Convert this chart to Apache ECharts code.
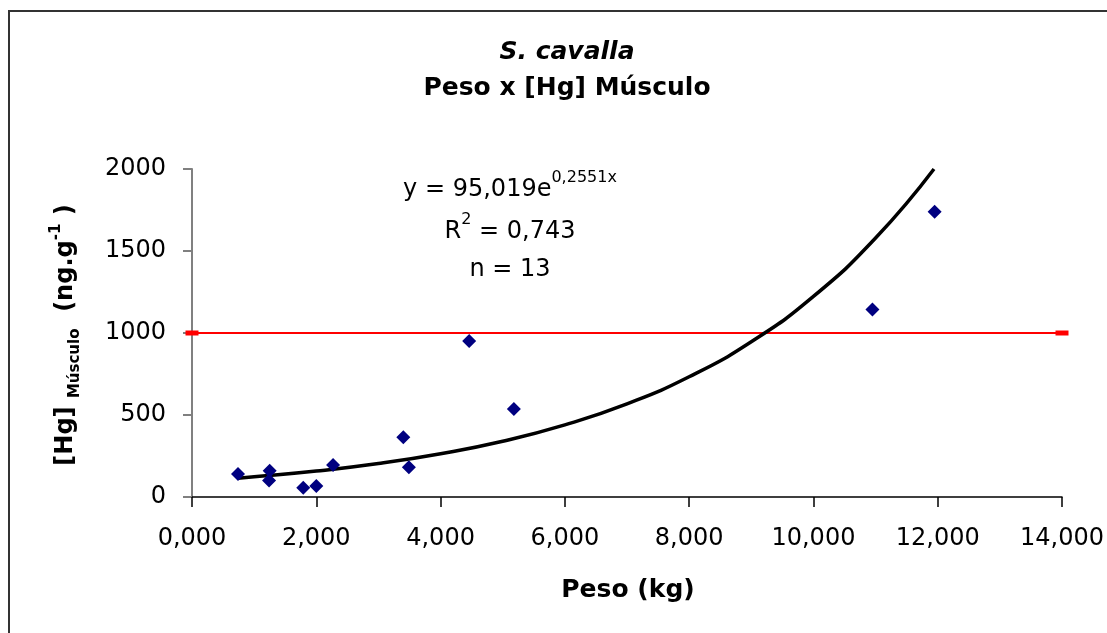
<!DOCTYPE html>
<html>
<head>
<meta charset="utf-8">
<script src="https://cdn.jsdelivr.net/npm/echarts@6/dist/echarts.min.js"></script>
<style>
html,body{margin:0;padding:0;background:#fff;}
#c{width:1107px;height:633px;}
</style>
</head>
<body>
<div id="c"></div>
<script>
// Observed data: weight (kg) and [Hg] muscle (ng/g)
const pesoKg = [0.74, 1.25, 1.24, 1.79, 2.00, 2.27, 3.40, 3.49, 4.46, 5.18, 10.95, 11.95];
const hgMusculo = [140, 160, 100, 57, 67, 195, 364, 181, 951, 537, 1144, 1740];

// Trend line (exponential fit)
const trendX = [0.74, 1, 2, 3, 4, 5, 6, 7, 8, 9, 10, 11, 11.94];
const trendY = [115, 123, 158, 204, 264, 340, 440, 568, 733, 947, 1223, 1579, 2000];

// Reference limit line
const limitX = [0, 14];
const limitY = [1000, 1000];

const xTicks = [0, 2, 4, 6, 8, 10, 12, 14];
const yTicks = [0, 500, 1000, 1500, 2000];

const titleLines = ['S. cavalla', 'Peso x [Hg] Músculo'];
const eqText = { a: 'y = 95,019e', sup: '0,2551x', r2: '0,743', n: '13' };

const FONT = 'DejaVu Sans';

const chart = echarts.init(document.getElementById('c'), null, { renderer: 'canvas' });

const scatterData = pesoKg.map((x, i) => [x, hgMusculo[i]]);
const trendData = trendX.map((x, i) => [x, trendY[i]]);
const limitData = limitX.map((x, i) => [x, limitY[i]]);

chart.setOption({
  backgroundColor: '#ffffff',
  animation: false,
  grid: { left: 192, right: 45, top: 169, bottom: 136 },
  xAxis: {
    type: 'value',
    min: xTicks[0], max: xTicks[xTicks.length - 1], interval: 2,
    axisLine: { show: true, onZero: false, lineStyle: { color: '#000', width: 1.5 } },
    axisTick: { show: true, inside: false, length: 10, lineStyle: { color: '#000', width: 1.5 } },
    splitLine: { show: false },
    axisLabel: {
      margin: 30, color: '#000', fontFamily: FONT, fontSize: 24,
      formatter: v => v.toFixed(3).replace('.', ',')
    }
  },
  yAxis: {
    type: 'value',
    min: yTicks[0], max: yTicks[yTicks.length - 1], interval: 500,
    axisLine: { show: true, lineStyle: { color: '#808080', width: 2 } },
    axisTick: { show: true, inside: false, length: 9, lineStyle: { color: '#808080', width: 2 } },
    splitLine: { show: false },
    axisLabel: { margin: 26, color: '#000', fontFamily: FONT, fontSize: 24, formatter: v => String(v) }
  },
  series: [
    {
      type: 'line', data: limitData, symbol: 'rect', symbolSize: [13, 5],
      lineStyle: { color: '#ff0000', width: 2 }, itemStyle: { color: '#ff0000' },
      clip: false, z: 2
    },
    {
      type: 'line', data: trendData, smooth: true, symbol: 'none',
      lineStyle: { color: '#000', width: 3.5 }, z: 3
    },
    {
      type: 'scatter', data: scatterData, symbol: 'diamond', symbolSize: 14,
      itemStyle: { color: '#000080', opacity: 1 }, z: 4
    }
  ],
  graphic: [
    {
      type: 'rect', shape: { x: 9, y: 11, width: 1110, height: 640 },
      style: { fill: 'none', stroke: '#333', lineWidth: 2 }, silent: true, z: -1
    },
    {
      type: 'text', x: 567, y: 52,
      style: { text: titleLines[0], font: 'italic bold 25px ' + FONT, fill: '#000', align: 'center', verticalAlign: 'middle' }
    },
    {
      type: 'text', x: 567, y: 88,
      style: { text: titleLines[1], font: 'bold 25px ' + FONT, fill: '#000', align: 'center', verticalAlign: 'middle' }
    },
    {
      type: 'text', x: 510, y: 186,
      style: {
        text: '{a|' + eqText.a + '}{s|' + eqText.sup + '}',
        align: 'center', verticalAlign: 'middle',
        rich: {
          a: { fontFamily: FONT, fontSize: 24, color: '#000', verticalAlign: 'bottom', lineHeight: 32 },
          s: { fontFamily: FONT, fontSize: 16, color: '#000', verticalAlign: 'top', lineHeight: 32 }
        }
      }
    },
    {
      type: 'text', x: 510, y: 228,
      style: {
        text: '{a|R}{s|2}{a| = ' + eqText.r2 + '}',
        align: 'center', verticalAlign: 'middle',
        rich: {
          a: { fontFamily: FONT, fontSize: 24, color: '#000', verticalAlign: 'bottom', lineHeight: 32 },
          s: { fontFamily: FONT, fontSize: 16, color: '#000', verticalAlign: 'top', lineHeight: 32 }
        }
      }
    },
    {
      type: 'text', x: 510, y: 270,
      style: { text: 'n = ' + eqText.n, font: '24px ' + FONT, fill: '#000', align: 'center', verticalAlign: 'middle' }
    },
    {
      type: 'text', x: 628, y: 590,
      style: { text: 'Peso (kg)', font: 'bold 25px ' + FONT, fill: '#000', align: 'center', verticalAlign: 'middle' }
    },
    {
      type: 'text', x: 66, y: 335, rotation: Math.PI / 2,
      style: {
        text: '{b|[Hg] }{sub|Músculo}{b|  (ng.g}{sup|-1}{b| )}',
        align: 'center', verticalAlign: 'middle',
        rich: {
          b: { fontFamily: FONT, fontWeight: 'bold', fontSize: 24, color: '#000', lineHeight: 34, verticalAlign: 'middle' },
          sub: { fontFamily: FONT, fontWeight: 'bold', fontSize: 15, color: '#000', lineHeight: 34, verticalAlign: 'bottom' },
          sup: { fontFamily: FONT, fontWeight: 'bold', fontSize: 15, color: '#000', lineHeight: 34, verticalAlign: 'top' }
        }
      }
    }
  ]
});
</script>
</body>
</html>
